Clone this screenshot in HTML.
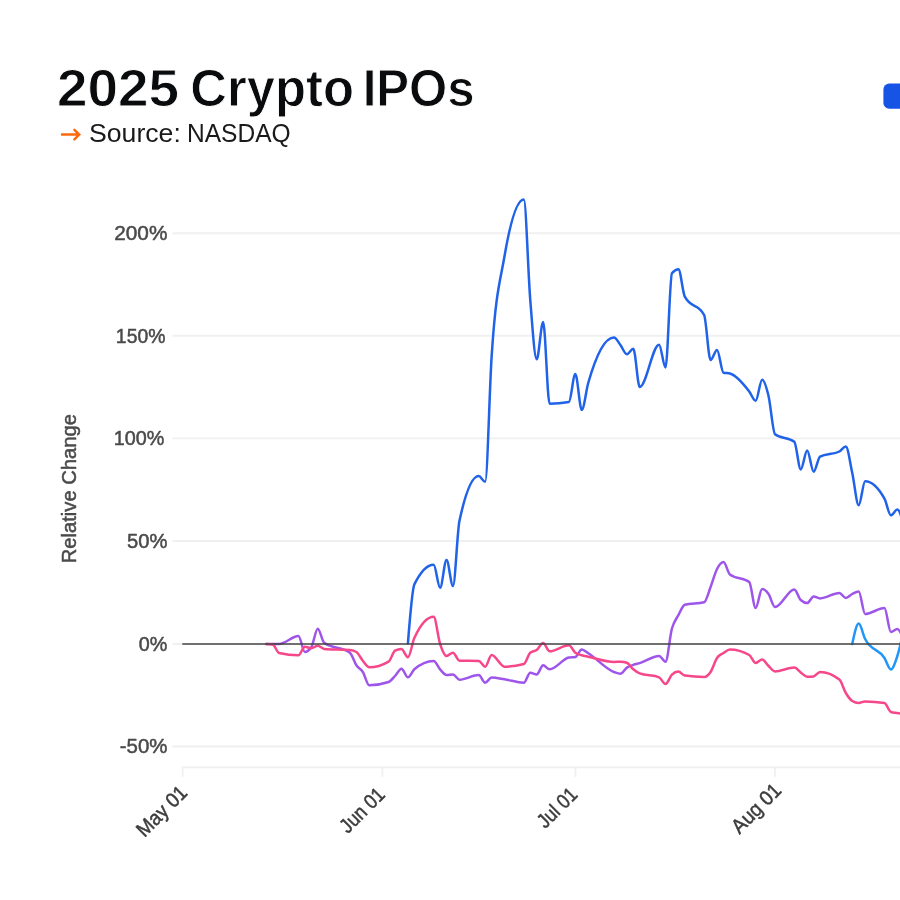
<!DOCTYPE html>
<html><head><meta charset="utf-8"><title>2025 Crypto IPOs</title>
<style>
html,body{margin:0;padding:0;background:#fff;}
body{width:900px;height:900px;overflow:hidden;position:relative;font-family:"Liberation Sans",sans-serif;}
svg{position:absolute;left:0;top:0;display:block;}
text{font-family:"Liberation Sans",sans-serif;}
.ln{fill:none;stroke-width:2.5;stroke-linecap:round;stroke-linejoin:round;}
</style></head><body>
<svg width="900" height="900" viewBox="0 0 900 900">
<rect width="900" height="900" fill="#ffffff"/>
<text transform="translate(57.02,105.85) scale(1.0458,1)" style="font:700 52.5px 'Liberation Sans',sans-serif" fill="#0a0b0d" stroke="#ffffff" stroke-width="0.9" stroke-linejoin="miter">2025</text>
<text transform="translate(190.37,105.85) scale(0.9673,1)" style="font:700 52.5px 'Liberation Sans',sans-serif" fill="#0a0b0d" stroke="#ffffff" stroke-width="0.9" stroke-linejoin="miter">Crypto</text>
<text transform="translate(362.67,105.85) scale(0.9360,1)" style="font:700 52.5px 'Liberation Sans',sans-serif" fill="#0a0b0d" stroke="#ffffff" stroke-width="0.9" stroke-linejoin="miter">IPOs</text>
<path d="M62,134.6 H79 M74.4,129.9 L79.2,134.6 L74.4,139.3" fill="none" stroke="#fb690c" stroke-width="2.5" stroke-linecap="round" stroke-linejoin="miter"/>
<text transform="translate(88.97,142.20) scale(1.0667,1)" style="font:400 25px 'Liberation Sans',sans-serif" fill="#1a1a1a">Source:</text>
<text transform="translate(186.93,142.20) scale(0.9829,1)" style="font:400 25px 'Liberation Sans',sans-serif" fill="#1a1a1a">NASDAQ</text>
<rect x="883.4" y="83.6" width="25.2" height="25.2" rx="5.8" fill="#1554e4"/>
<g stroke="#f0f0f0" stroke-width="1.9">
<line x1="172.5" x2="900" y1="233.2" y2="233.2"/>
<line x1="172.5" x2="900" y1="335.8" y2="335.8"/>
<line x1="172.5" x2="900" y1="438.4" y2="438.4"/>
<line x1="172.5" x2="900" y1="541.0" y2="541.0"/>
<line x1="172.5" x2="900" y1="746.5" y2="746.5"/>
<line x1="172.5" x2="183" y1="644" y2="644"/>
<line x1="182" x2="900" y1="767.2" y2="767.2"/>
<line x1="182.6" x2="182.6" y1="767.2" y2="776.7"/>
<line x1="382.4" x2="382.4" y1="767.2" y2="776.7"/>
<line x1="575.4" x2="575.4" y1="767.2" y2="776.7"/>
<line x1="774.9" x2="774.9" y1="767.2" y2="776.7"/>
</g>
<text transform="translate(114.26,239.80) scale(0.9904,1)" style="font:400 21px 'Liberation Sans',sans-serif" fill="#4a4a4a" stroke="#4a4a4a" stroke-width="0.5" stroke-linejoin="round">200%</text>
<text transform="translate(115.87,342.50) scale(0.9223,1)" style="font:400 21px 'Liberation Sans',sans-serif" fill="#4a4a4a" stroke="#4a4a4a" stroke-width="0.5" stroke-linejoin="round">150%</text>
<text transform="translate(113.84,445.00) scale(0.9417,1)" style="font:400 21px 'Liberation Sans',sans-serif" fill="#4a4a4a" stroke="#4a4a4a" stroke-width="0.5" stroke-linejoin="round">100%</text>
<text transform="translate(127.09,547.80) scale(0.9615,1)" style="font:400 21px 'Liberation Sans',sans-serif" fill="#4a4a4a" stroke="#4a4a4a" stroke-width="0.5" stroke-linejoin="round">50%</text>
<text transform="translate(138.74,650.50) scale(0.9426,1)" style="font:400 21px 'Liberation Sans',sans-serif" fill="#4a4a4a" stroke="#4a4a4a" stroke-width="0.5" stroke-linejoin="round">0%</text>
<text transform="translate(119.78,753.20) scale(0.9735,1)" style="font:400 21px 'Liberation Sans',sans-serif" fill="#4a4a4a" stroke="#4a4a4a" stroke-width="0.5" stroke-linejoin="round">-50%</text>
<text transform="translate(76.4,561.6) rotate(-90) scale(0.9613,1)" x="-1.75" y="0" style="font:400 21px 'Liberation Sans',sans-serif" fill="#4a4a4a" stroke="#4a4a4a" stroke-width="0.5" stroke-linejoin="round">Relative Change</text>
<text transform="translate(188.00,794.50) rotate(-45) scale(0.9302,1)" x="-66.25" y="0" style="font:400 20.5px 'Liberation Sans',sans-serif" fill="#3c3c3c" stroke="#3c3c3c" stroke-width="0.5" stroke-linejoin="round">May 01</text>
<text transform="translate(385.50,796.50) rotate(-45) scale(0.8797,1)" x="-60.50" y="0" style="font:400 20.5px 'Liberation Sans',sans-serif" fill="#3c3c3c" stroke="#3c3c3c" stroke-width="0.5" stroke-linejoin="round">Jun 01</text>
<text transform="translate(578.00,796.50) rotate(-45) scale(0.8598,1)" x="-53.75" y="0" style="font:400 20.5px 'Liberation Sans',sans-serif" fill="#3c3c3c" stroke="#3c3c3c" stroke-width="0.5" stroke-linejoin="round">Jul 01</text>
<text transform="translate(782.00,792.20) rotate(-45) scale(0.9375,1)" x="-64.00" y="0" style="font:400 20.5px 'Liberation Sans',sans-serif" fill="#3c3c3c" stroke="#3c3c3c" stroke-width="0.5" stroke-linejoin="round">Aug 01</text>
<path class="ln" stroke="#9d55ea" d="M266.22,644.00C268.37,644.00,270.51,644.00,272.66,644.00C274.81,644.00,276.95,644.00,279.10,644.00C285.54,644.00,291.98,636.00,298.42,636.00C300.57,636.00,302.71,652.00,304.86,652.00C307.01,652.00,309.15,650.43,311.30,647.30C313.45,644.17,315.59,628.70,317.74,628.70C319.89,628.70,322.03,641.03,324.18,642.70C332.77,649.37,341.35,646.03,349.94,652.70C352.09,654.37,354.23,662.08,356.38,665.30C358.53,668.52,360.67,668.67,362.82,672.00C364.97,675.33,367.11,685.30,369.26,685.30C375.70,685.30,382.14,684.20,388.58,682.00C390.73,681.27,392.87,678.22,395.02,676.00C397.17,673.78,399.31,668.70,401.46,668.70C403.61,668.70,405.75,677.30,407.90,677.30C410.05,677.30,412.19,671.14,414.34,669.30C420.78,663.77,427.22,661.00,433.66,661.00C435.81,661.00,437.95,666.97,440.10,669.30C442.25,671.63,444.39,675.00,446.54,675.00C448.69,675.00,450.83,674.40,452.98,674.40C455.13,674.40,457.27,679.70,459.42,679.70C465.86,679.70,472.30,675.00,478.74,675.00C480.89,675.00,483.03,682.70,485.18,682.70C487.33,682.70,489.47,677.60,491.62,677.60C495.91,677.60,500.21,678.66,504.50,679.30C510.94,680.26,517.38,682.70,523.82,682.70C525.97,682.70,528.11,672.70,530.26,672.70C532.41,672.70,534.55,674.40,536.70,674.40C538.85,674.40,540.99,665.30,543.14,665.30C545.29,665.30,547.43,669.30,549.58,669.30C556.02,669.30,562.46,658.80,568.90,657.60C571.05,657.20,573.19,657.40,575.34,657.00C577.49,656.60,579.63,649.60,581.78,649.60C583.93,649.60,586.07,652.00,588.22,653.30C596.81,658.49,605.39,668.83,613.98,672.00C616.13,672.79,618.27,673.80,620.42,673.80C622.57,673.80,624.71,669.08,626.86,667.60C629.01,666.12,631.15,665.65,633.30,664.90C635.45,664.15,637.59,663.75,639.74,663.10C646.18,661.16,652.62,656.00,659.06,656.00C661.21,656.00,663.35,661.70,665.50,661.70C667.65,661.70,669.79,636.27,671.94,628.50C674.09,620.73,676.23,619.05,678.38,615.10C680.53,611.15,682.67,605.38,684.82,604.80C691.26,603.07,697.70,603.93,704.14,602.20C706.29,601.62,708.43,592.53,710.58,587.00C712.73,581.47,714.87,573.17,717.02,569.00C719.17,564.83,721.31,562.00,723.46,562.00C725.61,562.00,727.75,572.71,729.90,574.40C736.34,579.47,742.78,576.93,749.22,582.00C751.37,583.69,753.51,608.00,755.66,608.00C757.81,608.00,759.95,589.00,762.10,589.00C764.25,589.00,766.39,591.00,768.54,594.00C770.69,597.00,772.83,607.00,774.98,607.00C781.42,607.00,787.86,589.40,794.30,589.40C796.45,589.40,798.59,598.00,800.74,600.00C802.89,602.00,805.03,603.00,807.18,603.00C809.33,603.00,811.47,596.40,813.62,596.40C815.77,596.40,817.91,598.40,820.06,598.40C826.50,598.40,832.94,593.00,839.38,593.00C841.53,593.00,843.67,598.00,845.82,598.00C847.97,598.00,850.11,595.07,852.26,594.00C854.41,592.93,856.55,591.60,858.70,591.60C860.85,591.60,862.99,614.00,865.14,614.00C871.58,614.00,878.02,608.00,884.46,608.00C886.61,608.00,888.75,632.00,890.90,632.00C893.05,632.00,895.19,629.00,897.34,629.00C899.49,629.00,901.63,634.50,903.78,640.00"/>
<path class="ln" stroke="#f5478a" d="M266.22,644.00C268.37,644.08,270.51,644.17,272.66,644.50C274.81,644.83,276.95,652.49,279.10,653.00C285.54,654.53,291.98,655.30,298.42,655.30C300.57,655.30,302.71,646.70,304.86,646.70C307.01,646.70,309.15,648.30,311.30,648.30C313.45,648.30,315.59,645.70,317.74,645.70C319.89,645.70,322.03,648.83,324.18,649.00C332.77,649.67,341.35,649.33,349.94,650.00C352.09,650.17,354.23,650.67,356.38,652.00C358.53,653.33,360.67,658.15,362.82,660.70C364.97,663.25,367.11,667.30,369.26,667.30C375.70,667.30,382.14,665.40,388.58,661.60C390.73,660.33,392.87,651.83,395.02,650.70C397.17,649.57,399.31,649.00,401.46,649.00C403.61,649.00,405.75,657.30,407.90,657.30C410.05,657.30,412.19,642.73,414.34,638.00C420.78,623.80,427.22,616.70,433.66,616.70C435.81,616.70,437.95,637.45,440.10,644.00C442.25,650.55,444.39,656.00,446.54,656.00C448.69,656.00,450.83,652.70,452.98,652.70C455.13,652.70,457.27,660.63,459.42,660.70C465.86,660.90,472.30,660.80,478.74,661.00C480.89,661.07,483.03,666.70,485.18,666.70C487.33,666.70,489.47,655.00,491.62,655.00C495.91,655.00,500.21,666.70,504.50,666.70C510.94,666.70,517.38,665.80,523.82,664.00C525.97,663.40,528.11,654.50,530.26,652.70C532.41,650.90,534.55,651.62,536.70,650.00C538.85,648.38,540.99,643.00,543.14,643.00C545.29,643.00,547.43,651.30,549.58,651.30C556.02,651.30,562.46,645.30,568.90,645.30C571.05,645.30,573.19,651.03,575.34,652.70C577.49,654.37,579.63,654.63,581.78,655.30C583.93,655.97,586.07,656.24,588.22,656.70C596.81,658.54,605.39,661.90,613.98,661.90C616.13,661.90,618.27,661.70,620.42,661.70C622.57,661.70,624.71,662.07,626.86,662.80C629.01,663.53,631.15,667.53,633.30,669.30C635.45,671.07,637.59,672.53,639.74,673.40C646.18,676.00,652.62,674.70,659.06,677.30C661.21,678.17,663.35,684.00,665.50,684.00C667.65,684.00,669.79,676.77,671.94,674.70C674.09,672.63,676.23,671.60,678.38,671.60C680.53,671.60,682.67,675.29,684.82,675.60C691.26,676.53,697.70,677.00,704.14,677.00C706.29,677.00,708.43,675.17,710.58,672.00C712.73,668.83,714.87,661.17,717.02,658.00C719.17,654.83,721.31,654.40,723.46,653.00C725.61,651.60,727.75,649.60,729.90,649.60C736.34,649.60,742.78,651.40,749.22,655.00C751.37,656.20,753.51,663.00,755.66,663.00C757.81,663.00,759.95,659.60,762.10,659.60C764.25,659.60,766.39,664.03,768.54,666.00C770.69,667.97,772.83,671.40,774.98,671.40C781.42,671.40,787.86,667.60,794.30,667.60C796.45,667.60,798.59,670.87,800.74,672.40C802.89,673.93,805.03,676.80,807.18,676.80C809.33,676.80,811.47,676.67,813.62,676.40C815.77,676.13,817.91,672.00,820.06,672.00C826.50,672.00,832.94,674.53,839.38,679.60C841.53,681.29,843.67,689.43,845.82,693.00C847.97,696.57,850.11,699.67,852.26,701.00C854.41,702.33,856.55,703.00,858.70,703.00C860.85,703.00,862.99,701.40,865.14,701.40C871.58,701.40,878.02,701.93,884.46,703.00C886.61,703.36,888.75,711.33,890.90,712.00C893.05,712.67,895.19,712.67,897.34,713.00C899.49,713.33,901.63,713.67,903.78,714.00"/>
<path class="ln" stroke="#2062e8" d="M407.90,643.50C410.05,616.14,412.19,588.78,414.34,584.40C420.78,571.27,427.22,564.70,433.66,564.70C435.81,564.70,437.95,587.80,440.10,587.80C442.25,587.80,444.39,560.00,446.54,560.00C448.69,560.00,450.83,586.10,452.98,586.10C455.13,586.10,457.27,530.98,459.42,521.00C465.86,491.07,472.30,476.10,478.74,476.10C480.89,476.10,483.03,481.70,485.18,481.70C487.33,481.70,489.47,389.97,491.62,356.60C495.91,289.86,500.21,281.41,504.50,256.30C510.94,218.64,517.38,199.50,523.82,199.50C525.97,199.50,528.11,273.17,530.26,299.80C532.41,326.43,534.55,359.30,536.70,359.30C538.85,359.30,540.99,322.00,543.14,322.00C545.29,322.00,547.43,403.70,549.58,403.70C556.02,403.70,562.46,403.13,568.90,402.00C571.05,401.62,573.19,374.00,575.34,374.00C577.49,374.00,579.63,410.00,581.78,410.00C583.93,410.00,586.07,390.60,588.22,383.00C596.81,352.60,605.39,337.40,613.98,337.40C616.13,337.40,618.27,342.20,620.42,345.00C622.57,347.80,624.71,354.20,626.86,354.20C629.01,354.20,631.15,348.70,633.30,348.70C635.45,348.70,637.59,387.00,639.74,387.00C646.18,387.00,652.62,344.70,659.06,344.70C661.21,344.70,663.35,367.50,665.50,367.50C667.65,367.50,669.79,276.03,671.94,273.30C674.09,270.57,676.23,269.20,678.38,269.20C680.53,269.20,682.67,292.63,684.82,296.70C691.26,308.90,697.70,302.80,704.14,315.00C706.29,319.07,708.43,360.00,710.58,360.00C712.73,360.00,714.87,350.00,717.02,350.00C719.17,350.00,721.31,372.17,723.46,372.70C725.61,373.23,727.75,372.97,729.90,373.50C736.34,375.10,742.78,383.03,749.22,391.50C751.37,394.32,753.51,400.80,755.66,400.80C757.81,400.80,759.95,379.70,762.10,379.70C764.25,379.70,766.39,386.92,768.54,396.00C770.69,405.08,772.83,432.51,774.98,434.20C781.42,439.27,787.86,436.73,794.30,441.80C796.45,443.49,798.59,469.40,800.74,469.40C802.89,469.40,805.03,450.50,807.18,450.50C809.33,450.50,811.47,471.70,813.62,471.70C815.77,471.70,817.91,457.86,820.06,456.70C826.50,453.23,832.94,454.97,839.38,451.50C841.53,450.34,843.67,446.50,845.82,446.50C847.97,446.50,850.11,463.20,852.26,473.00C854.41,482.80,856.55,505.30,858.70,505.30C860.85,505.30,862.99,481.30,865.14,481.30C871.58,481.30,878.02,487.10,884.46,498.70C886.61,502.57,888.75,515.30,890.90,515.30C893.05,515.30,895.19,509.60,897.34,509.60C899.49,509.60,901.63,517.30,903.78,525.00"/>
<path class="ln" stroke="#2196f6" d="M852.26,644.00C854.41,633.80,856.55,623.60,858.70,623.60C860.85,623.60,862.99,634.78,865.14,639.00C871.58,651.67,878.02,647.87,884.46,658.00C886.61,661.38,888.75,669.40,890.90,669.40C893.05,669.40,895.19,662.57,897.34,656.00C899.49,649.43,901.63,639.72,903.78,630.00"/>
<line x1="182.3" x2="900" y1="644" y2="644" stroke="#404040" stroke-width="1.5"/>
</svg>
</body></html>
